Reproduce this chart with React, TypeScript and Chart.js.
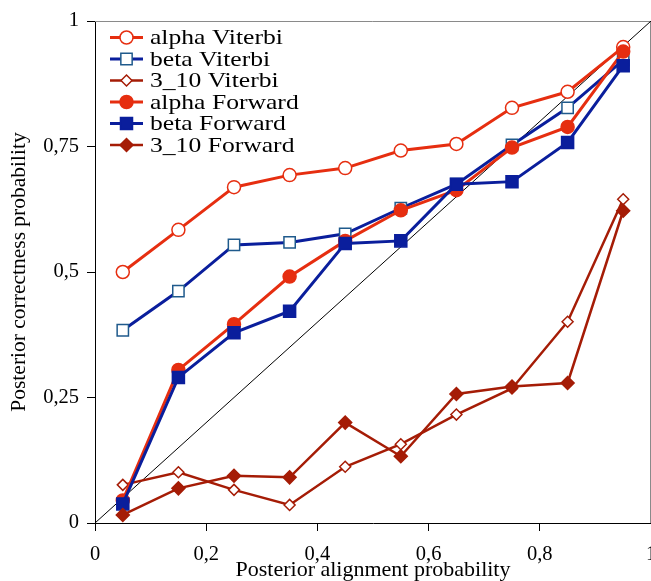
import React, { useEffect, useRef } from 'react';
import { Chart, registerables } from 'chart.js';

Chart.register(...registerables);

const xValues = [0.05, 0.15, 0.25, 0.35, 0.45, 0.55, 0.65, 0.75, 0.85, 0.95];
const alphaViterbi = [0.5, 0.584, 0.669, 0.693, 0.707, 0.742, 0.755, 0.827, 0.859, 0.948];
const betaViterbi = [0.384, 0.462, 0.554, 0.559, 0.576, 0.627, 0.675, 0.753, 0.827, 0.922];
const h310Viterbi = [0.076, 0.101, 0.066, 0.036, 0.112, 0.157, 0.216, 0.268, 0.401, 0.645];
const alphaForward = [0.045, 0.305, 0.396, 0.491, 0.562, 0.623, 0.663, 0.748, 0.789, 0.939];
const betaForward = [0.038, 0.29, 0.379, 0.422, 0.557, 0.562, 0.675, 0.68, 0.758, 0.911];
const h310Forward = [0.016, 0.069, 0.094, 0.091, 0.2, 0.133, 0.257, 0.272, 0.279, 0.622];
const diagonal = [0, 1];

const seriesLabels = ['alpha Viterbi', 'beta Viterbi', '3_10 Viterbi', 'alpha Forward', 'beta Forward', '3_10 Forward'];
const xTitle = 'Posterior alignment probability';
const yTitle = 'Posterior correctness probability';

const RED = '#E62E10';
const BLUE = '#0A1E9C';
const BLUE_OPEN = '#1F5A8C';
const DARK = '#A51C06';
const FONT = "'Liberation Serif', 'Times New Roman', serif";

const fmt = (v: number) => String(Math.round(Number(v) * 100) / 100).replace('.', ',');

const toPts = (ys: number[]) => ys.map((y, i) => ({ x: xValues[i], y }));

type Style = { color: string; marker: string; radius: number; fill: string; stroke: string; width: number };
const styles: Style[] = [
  { color: RED, marker: 'circle', radius: 6.5, fill: '#fff', stroke: RED, width: 3 },
  { color: BLUE, marker: 'rect', radius: 8, fill: '#fff', stroke: BLUE_OPEN, width: 3 },
  { color: DARK, marker: 'rectRot', radius: 5.5, fill: '#fff', stroke: DARK, width: 2.5 },
  { color: RED, marker: 'circle', radius: 6.5, fill: RED, stroke: RED, width: 3 },
  { color: BLUE, marker: 'rect', radius: 8.5, fill: BLUE, stroke: BLUE, width: 3 },
  { color: DARK, marker: 'rectRot', radius: 6.5, fill: DARK, stroke: DARK, width: 2.5 },
];

function drawMarker(ctx: CanvasRenderingContext2D, s: Style, x: number, y: number) {
  ctx.save();
  ctx.beginPath();
  const r = s.radius;
  if (s.marker === 'circle') {
    ctx.arc(x, y, r, 0, Math.PI * 2);
  } else if (s.marker === 'rect') {
    const h = r * Math.SQRT1_2;
    ctx.rect(x - h, y - h, 2 * h, 2 * h);
  } else {
    ctx.moveTo(x - r, y);
    ctx.lineTo(x, y - r);
    ctx.lineTo(x + r, y);
    ctx.lineTo(x, y + r);
    ctx.closePath();
  }
  ctx.fillStyle = s.fill;
  ctx.fill();
  ctx.lineWidth = 1.5;
  ctx.strokeStyle = s.stroke;
  ctx.stroke();
  ctx.restore();
}

const framePlugin = {
  id: 'frame',
  beforeDatasetsDraw(chart: any) {
    const { ctx, chartArea } = chart;
    ctx.save();
    ctx.strokeStyle = '#8a8a8a';
    ctx.lineWidth = 1;
    ctx.beginPath();
    ctx.moveTo(chartArea.left, chartArea.top + 0.5);
    ctx.lineTo(chartArea.right - 0.5, chartArea.top + 0.5);
    ctx.lineTo(chartArea.right - 0.5, chartArea.bottom);
    ctx.stroke();
    ctx.restore();
  },
};

const legendPlugin = {
  id: 'customLegend',
  afterDraw(chart: any) {
    const { ctx } = chart;
    const x0 = 110;
    const x1 = 143;
    const tx = 150;
    const y0 = 37.5;
    const dy = 21.5;
    const stretch = 1.22;
    ctx.save();
    seriesLabels.forEach((label, i) => {
      const s = styles[i];
      const y = y0 + i * dy;
      ctx.beginPath();
      ctx.strokeStyle = s.color;
      ctx.lineWidth = s.width;
      ctx.moveTo(x0, y);
      ctx.lineTo(x1, y);
      ctx.stroke();
      drawMarker(ctx, s, (x0 + x1) / 2, y);
      ctx.save();
      ctx.translate(tx, y + 1);
      ctx.scale(stretch, 1);
      ctx.fillStyle = '#000';
      ctx.font = `21px ${FONT}`;
      ctx.textBaseline = 'middle';
      ctx.textAlign = 'left';
      ctx.fillText(label, 0, 0);
      ctx.restore();
    });
    ctx.restore();
  },
};

export default function App() {
  const ref = useRef<HTMLCanvasElement | null>(null);

  useEffect(() => {
    if (!ref.current) return;
    const series = [alphaViterbi, betaViterbi, h310Viterbi, alphaForward, betaForward, h310Forward];
    const datasets: any[] = series.map((ys, i) => {
      const s = styles[i];
      return {
        label: seriesLabels[i],
        data: toPts(ys),
        borderColor: s.color,
        borderWidth: s.width,
        pointStyle: s.marker,
        pointRadius: s.radius,
        pointBackgroundColor: s.fill,
        pointBorderColor: s.stroke,
        pointBorderWidth: 1.5,
        tension: 0,
        fill: false,
        clip: false,
        order: 6 - i,
      };
    });
    datasets.push({
      label: 'diagonal',
      data: diagonal.map((v) => ({ x: v, y: v })),
      borderColor: '#000',
      borderWidth: 1,
      pointRadius: 0,
      fill: false,
      order: 10,
    });

    const chart = new Chart(ref.current, {
      type: 'line',
      data: { datasets },
      options: {
        animation: false,
        responsive: false,
        maintainAspectRatio: false,
        events: [],
        layout: { padding: { top: 21, right: 0, left: 0, bottom: 0 }, autoPadding: false },
        plugins: { legend: { display: false }, tooltip: { enabled: false } },
        scales: {
          x: {
            type: 'linear',
            min: 0,
            max: 1,
            ticks: {
              stepSize: 0.2,
              autoSkip: false,
              maxRotation: 0,
              callback: (v: any) => fmt(v),
              color: '#000',
              font: { family: FONT, size: 20.5 },
              padding: 11,
            },
            grid: { drawOnChartArea: false, drawTicks: true, tickLength: 8, color: '#000', lineWidth: 1 },
            border: { color: '#000', width: 1 },
            title: {
              display: true,
              text: xTitle,
              color: '#000',
              font: { family: FONT, size: 22, lineHeight: 1 },
              padding: { top: 0, bottom: 0 },
            },
            afterFit: (s: any) => {
              s.height = 58;
              s.paddingLeft = 0;
              s.paddingRight = 0;
            },
          },
          y: {
            type: 'linear',
            min: 0,
            max: 1,
            ticks: {
              stepSize: 0.25,
              autoSkip: false,
              callback: (v: any) => fmt(v),
              color: '#000',
              font: { family: FONT, size: 20.5 },
              padding: 8,
            },
            grid: { drawOnChartArea: false, drawTicks: true, tickLength: 8, color: '#000', lineWidth: 1 },
            border: { color: '#000', width: 1 },
            title: {
              display: true,
              text: yTitle,
              color: '#000',
              font: { family: FONT, size: 21.5, lineHeight: 1 },
              padding: { top: 9, bottom: 0 },
            },
            afterFit: (s: any) => {
              s.width = 95;
              s.paddingTop = 0;
              s.paddingBottom = 0;
            },
          },
        },
      } as any,
      plugins: [framePlugin, legendPlugin],
    });
    return () => chart.destroy();
  }, []);

  return (
    <div style={{ position: 'absolute', left: 0, top: 0, width: 651, height: 581, background: '#fff' }}>
      <canvas ref={ref} width={651} height={581} style={{ display: 'block' }} />
    </div>
  );
}
